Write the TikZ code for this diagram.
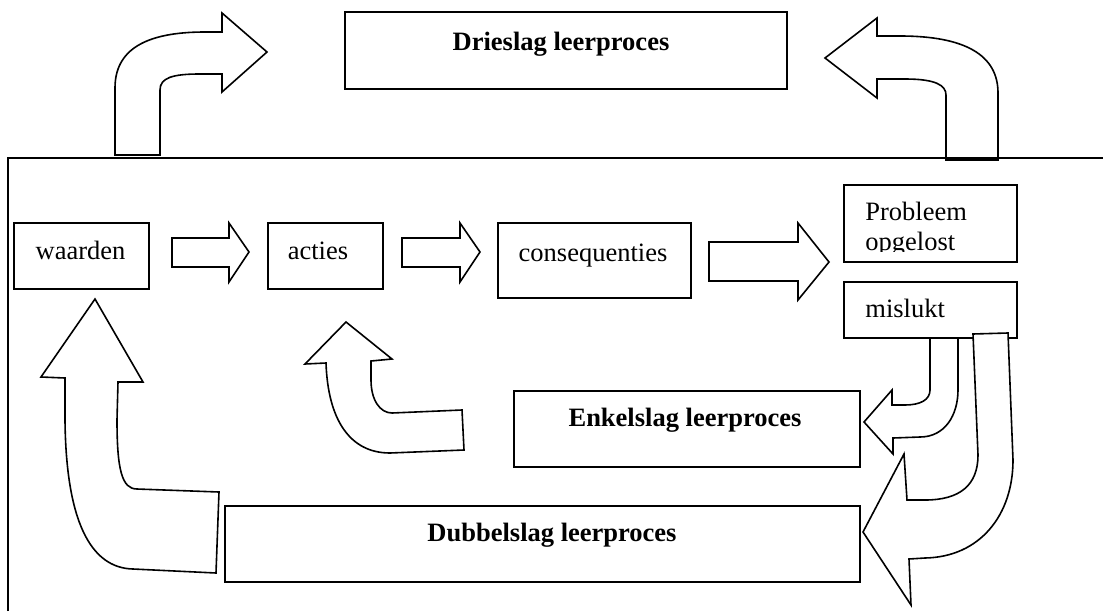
\documentclass[tikz,border=0pt]{standalone}
\usepackage{fontspec}
\setmainfont{Liberation Serif}
\usetikzlibrary{fit}
\begin{document}
\begin{tikzpicture}[x=0.5pt,y=-0.5pt,
  boxed/.style={draw, line width=0.8pt, inner sep=0pt},
  blk/.style={draw, line width=0.8pt, fill=white, line join=miter},
  txt/.style={inner sep=0pt, font=\fontsize{13.25}{15.5}\selectfont},
  btxt/.style={inner sep=0pt, font=\fontsize{13.25}{15.5}\selectfont\bfseries}]
\useasboundingbox (0,0) rectangle (1103,611);

% corner coordinates of the boxes
\coordinate (w1) at (14,223);   \coordinate (w2) at (149,289);
\coordinate (a1) at (268,223);  \coordinate (a2) at (383,289);
\coordinate (c1) at (498,223);  \coordinate (c2) at (691,298);
\coordinate (p1) at (844,185);  \coordinate (p2) at (1017,262);
\coordinate (m1) at (844,282);  \coordinate (m2) at (1017,338);
\coordinate (e1) at (514,391);  \coordinate (e2) at (860,467);
\coordinate (d1) at (225,506);  \coordinate (d2) at (860,582);
\coordinate (t1) at (345,12);   \coordinate (t2) at (787,89);

\node[boxed, fit=(w1)(w2)] (waarden) {};
\node[boxed, fit=(a1)(a2)] (acties) {};
\node[boxed, fit=(c1)(c2)] (conseq) {};
\node[boxed, fit=(p1)(p2)] (probleem) {};
\node[boxed, fit=(m1)(m2)] (mislukt) {};
\node[boxed, fit=(e1)(e2)] (enkel) {};
\node[boxed, fit=(d1)(d2)] (dubbel) {};
\node[boxed, fit=(t1)(t2)] (drie) {};

% texts
\node[txt, anchor=base] (tw) at (80.5,259) {waarden};
\node[txt, anchor=base] (ta) at (318,259) {acties};
\node[txt, anchor=base] (tc) at (593,261) {consequenties};
\node[txt, anchor=base west] (tp) at (865,220) {Probleem};
\begin{scope}
\clip (844,185) rectangle (1017,251);
\node[txt, anchor=base west] (to) at (865,250) {opgelost};
\end{scope}
\node[txt, anchor=base west] (tm) at (865,317) {mislukt};
\node[btxt, anchor=base] (te) at (685,426) {Enkelslag leerproces};
\node[btxt, anchor=base] (td) at (552,541) {Dubbelslag leerproces};
\node[btxt, anchor=base] (tt) at (561,50) {Drieslag leerproces};

% straight block arrows
\draw[blk] (172,238) -- (229,238) -- (229,223) -- (249,252) -- (229,282) -- (229,267) -- (172,267) -- cycle;
\draw[blk] (402,238) -- (460,238) -- (460,223) -- (480,252) -- (460,282) -- (460,267) -- (402,267) -- cycle;
\draw[blk] (709,242) -- (798,242) -- (798,223) -- (829,262) -- (798,300) -- (798,281) -- (709,281) -- cycle;

% top-left curved arrow
\draw[blk] (115,155) -- (115,88) .. controls (115,50) and (145,32) .. (205,32) -- (222,32) -- (222,13) -- (267,52) -- (222,92) -- (222,74) -- (200,74) .. controls (172,74) and (160,78) .. (160,90) -- (160,155) -- cycle;

% top-right curved arrow
\draw[blk] (998,160) -- (998,93) .. controls (998,55) and (965,36) .. (900,36) -- (877,36) -- (877,18) -- (825,58) -- (877,98) -- (877,79) -- (905,79) .. controls (935,79) and (946,85) .. (946,95) -- (946,160) -- cycle;

% enkelslag arrow
\draw[blk] (930,338) -- (930,390) .. controls (930,400) and (920,405) .. (905,405) -- (892,405) -- (892,390) -- (864,422) -- (893,454) -- (893,438) -- (920,437) .. controls (945,437) and (958,415) .. (958,390) -- (958,338) -- cycle;

% dubbelslag arrow
\draw[blk] (973,334) -- (978,455) .. controls (978,485) and (960,500) .. (925,500) -- (907,500) -- (904,454) -- (863,532) -- (911,605) -- (909,559) -- (925,558) .. controls (980,557) and (1013,515) .. (1013,460) -- (1008,333) -- cycle;

% small arrow back to acties
\draw[blk] (346,322) -- (392,359) -- (371,361) -- (371,380) .. controls (371,400) and (380,413) .. (392,413) -- (462,410) -- (464,450) -- (390,453) .. controls (350,453) and (328,420) .. (326,363) -- (305,364) -- cycle;

% big arrow back to waarden
\draw[blk] (95,299) -- (143,382) -- (118,382) -- (117,420) .. controls (117,470) and (122,489) .. (137,489) -- (219,492) -- (216,573) -- (133,569) .. controls (90,568) and (66,520) .. (65,420) -- (65,378) -- (41,377) -- cycle;

% frame
\draw[line width=0.9pt] (8,611) -- (8,158) -- (1103,158);
\end{tikzpicture}
\end{document}
